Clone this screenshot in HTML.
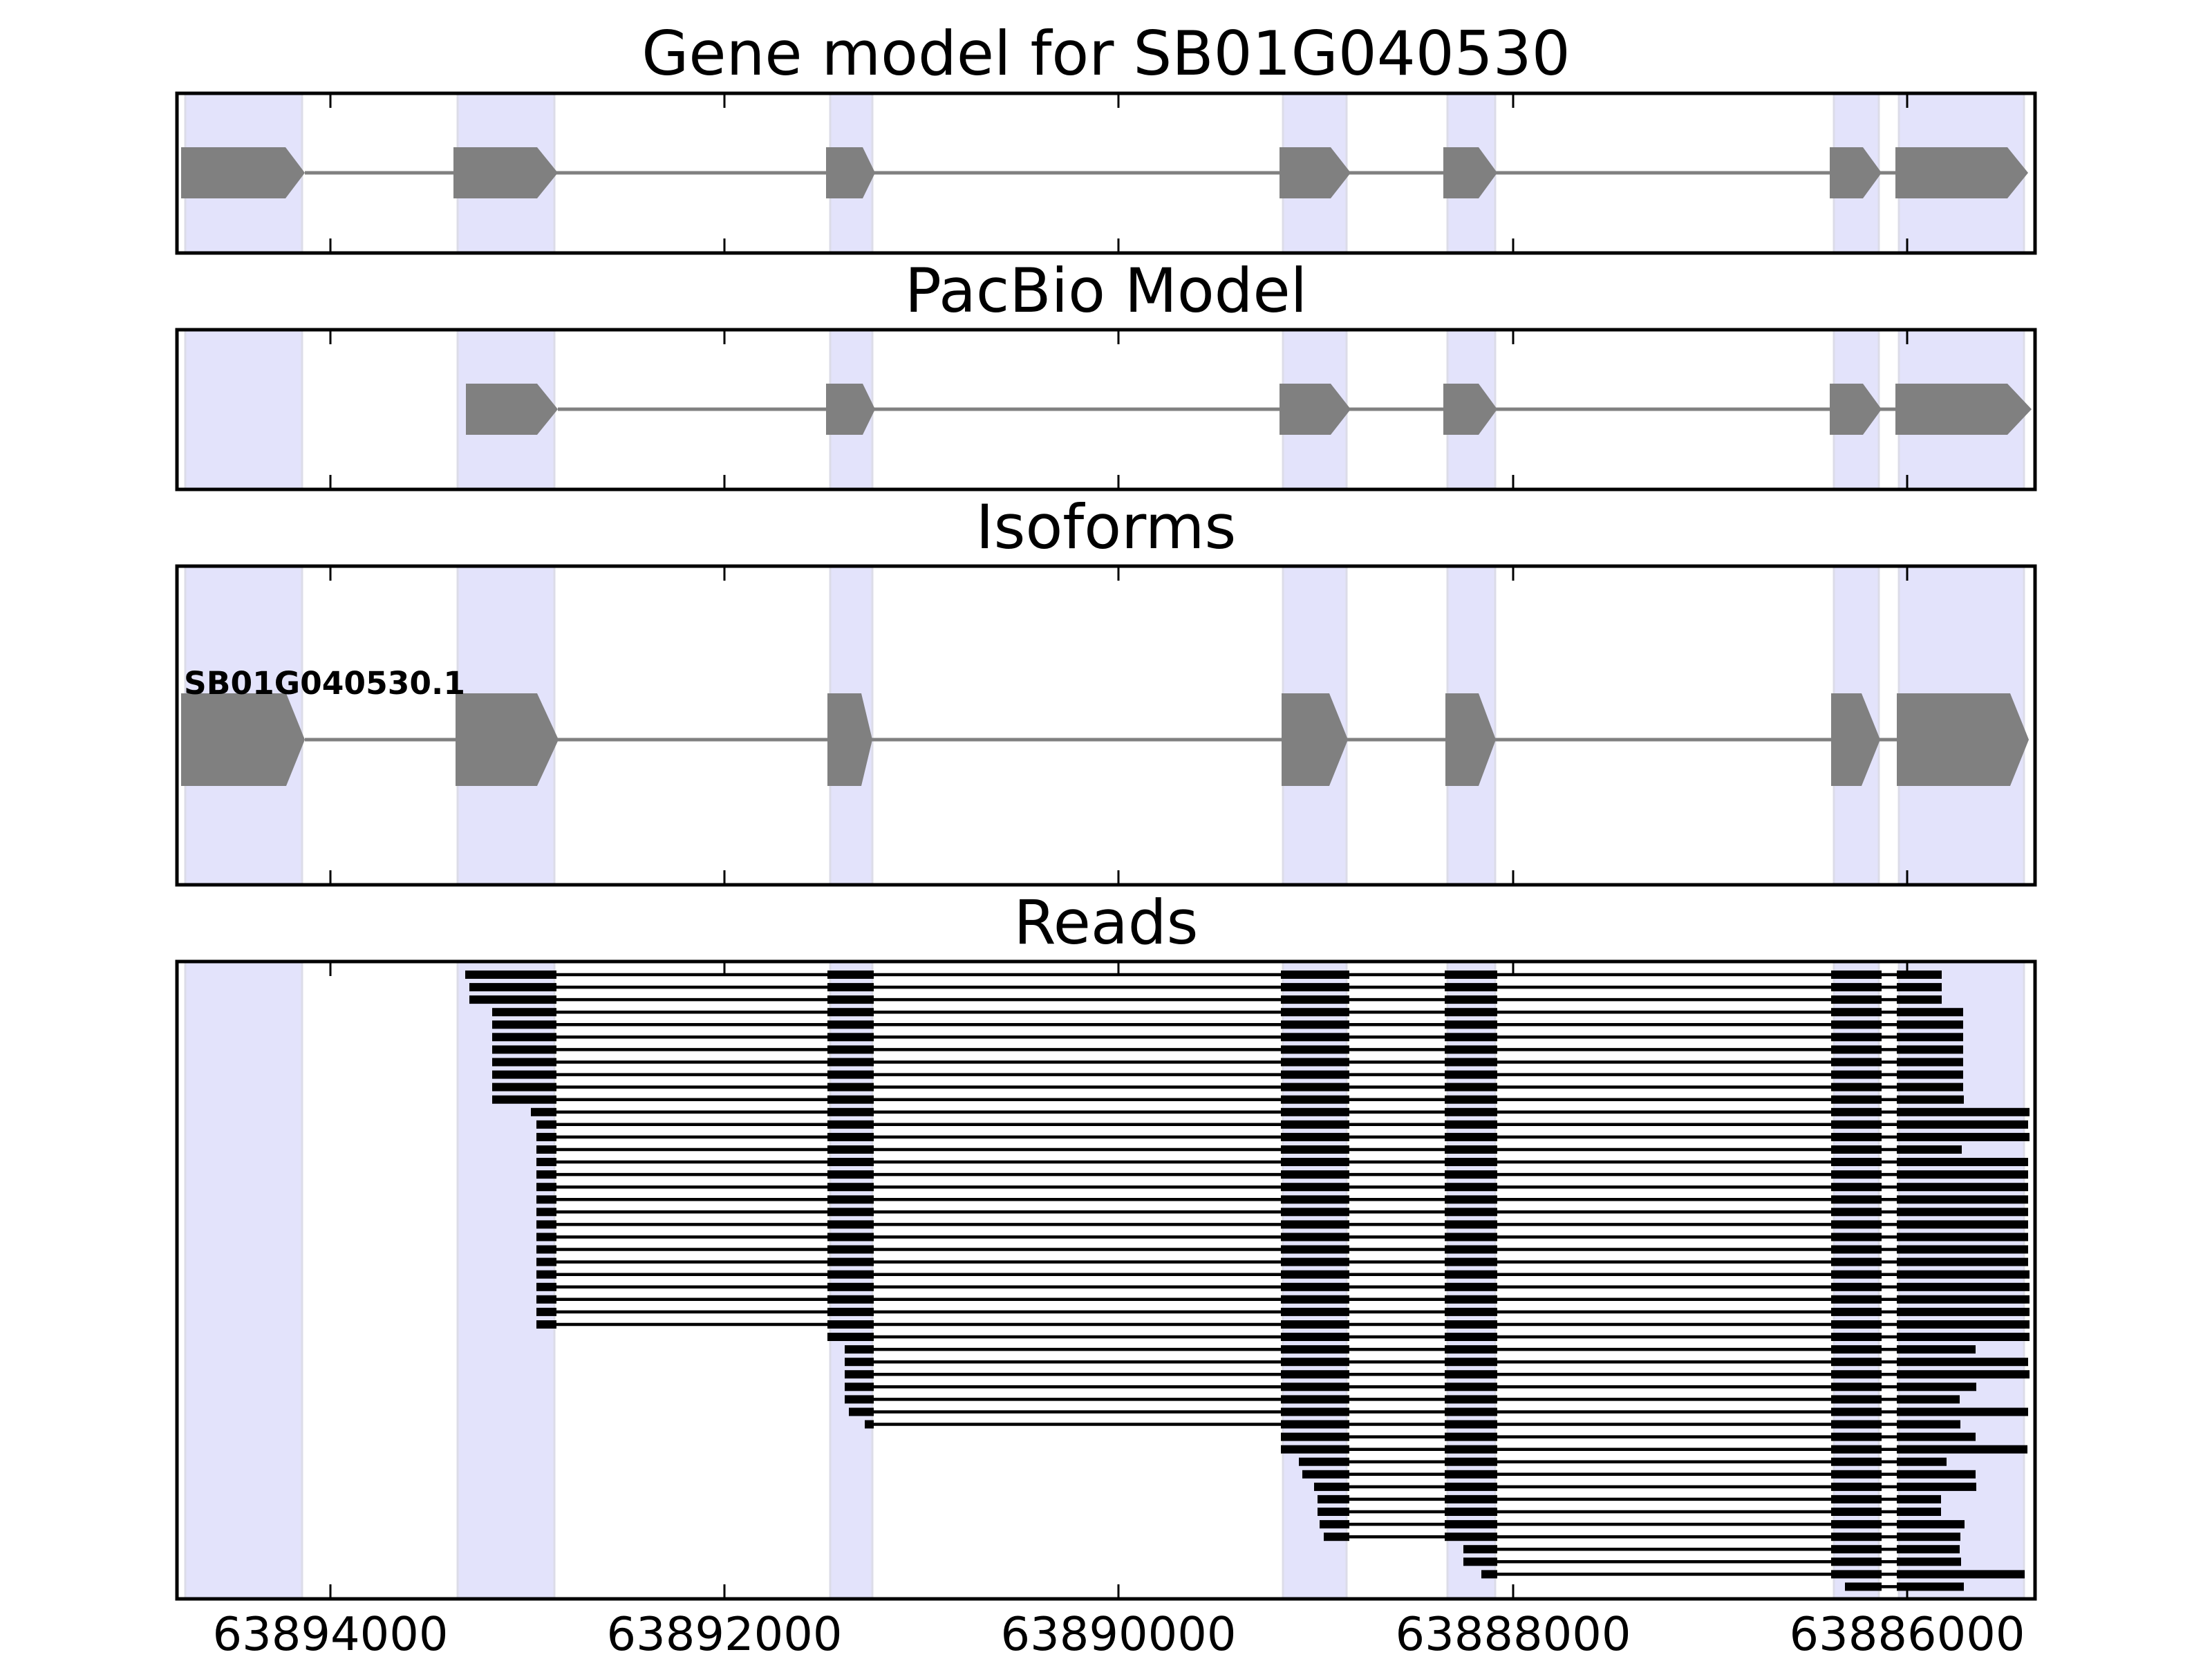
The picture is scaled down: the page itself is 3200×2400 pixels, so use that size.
<!DOCTYPE html>
<html><head><meta charset="utf-8"><style>
html,body{margin:0;padding:0;background:#fff;}
svg{display:block;}
text{font-family:"DejaVu Sans","Liberation Sans",sans-serif;}
</style></head><body>
<svg id="s" width="3200" height="2400" viewBox="0 0 3200 2400" xmlns="http://www.w3.org/2000/svg">
<text x="1600" y="108" font-size="88" text-anchor="middle">Gene model for SB01G040530</text>
<text x="1600" y="451" font-size="88" text-anchor="middle">PacBio Model</text>
<text x="1600" y="793" font-size="88" text-anchor="middle">Isoforms</text>
<text x="1600" y="1365" font-size="88" text-anchor="middle">Reads</text>
<g id="g"></g>
<text x="478" y="2387" font-size="67" text-anchor="middle">63894000</text>
<text x="1048" y="2387" font-size="67" text-anchor="middle">63892000</text>
<text x="1618" y="2387" font-size="67" text-anchor="middle">63890000</text>
<text x="2189" y="2387" font-size="67" text-anchor="middle">63888000</text>
<text x="2759" y="2387" font-size="67" text-anchor="middle">63886000</text>
</svg>
<script>
var g=document.getElementById('g'),h='';
var panels=[[135,366],[477,708],[819,1280],[1391,2313]];
var shade=[[268,437],[662,802],[1201,1262],[1856,1948],[2094,2163],[2653,2718],[2747,2928]];
var ticks=[478,1048,1618,2189,2759];
panels.forEach(function(p){
 shade.forEach(function(s){h+='<rect x="'+s[0]+'" y="'+p[0]+'" width="'+(s[1]-s[0])+'" height="'+(p[1]-p[0])+'" fill="#e3e3fb" stroke="#dcdce8" stroke-width="3"/>';});
});
function chev(a,b,t,cy,hh){return '<polygon points="'+a+','+(cy-hh)+' '+b+','+(cy-hh)+' '+t+','+cy+' '+b+','+(cy+hh)+' '+a+','+(cy+hh)+'" fill="#808080"/>';}
var gm=[[262,413,441],[656,777,807],[1195,1248,1266],[1851,1925,1954],[2088,2139,2166],[2647,2695,2722],[2742,2904,2934]];
h+='<line x1="441" y1="250" x2="2742" y2="250" stroke="#808080" stroke-width="5"/>';
gm.forEach(function(e){h+=chev(e[0],e[1],e[2],250,37);});
h+='<line x1="807" y1="592" x2="2742" y2="592" stroke="#808080" stroke-width="5"/>';
gm.forEach(function(e,i){if(i==0)return; var t=e[2]; if(i==6)t=2939; h+=chev(i==1?674:e[0],e[1],t,592,37);});
var iso=[[262,414,441],[659,777,808],[1197,1246,1262],[1854,1923,1950],[2091,2139,2164],[2649,2693,2720],[2744,2908,2935]];
h+='<line x1="441" y1="1070" x2="2744" y2="1070" stroke="#808080" stroke-width="5"/>';
iso.forEach(function(e){h+=chev(e[0],e[1],e[2],1070,67);});
h+='<text x="266" y="1004" font-size="45" font-weight="bold" textLength="407" lengthAdjust="spacingAndGlyphs">SB01G040530.1</text>';
var EX=[[0,805],[0,1264],[0,1952],[0,2166],[0,2722],[2744,0]];
var rows=[[0,673,2809],[0,679,2809],[0,679,2809]];
for(var i=3;i<=9;i++)rows.push([0,712,2840]);
rows.push([0,712,2841],[0,768,2936],[0,776,2934],[0,776,2936],[0,776,2838]);
for(i=15;i<=23;i++)rows.push([0,776,2934]);
for(i=24;i<=28;i++)rows.push([0,776,2936]);
rows.push([1,1197,2936],[1,1222,2858],[1,1222,2934],[1,1222,2936],[1,1222,2859],[1,1222,2835],[1,1228,2934],[1,1251,2836],
[2,1853,2858],[2,1853,2933],[2,1879,2816],[2,1884,2858],[2,1901,2859],[2,1906,2808],[2,1906,2808],[2,1909,2842],[2,1915,2836],
[3,2117,2835],[3,2117,2837],[3,2143,2929],[4,2669,2841]);
rows.forEach(function(r,i){
 var y=1410+18.07*i;
 h+='<line x1="'+r[1]+'" y1="'+y.toFixed(1)+'" x2="2744" y2="'+y.toFixed(1)+'" stroke="#000" stroke-width="4.5"/>';
 for(var k=r[0];k<6;k++){
  var a=(k==r[0])?r[1]:(k==5?2744:EX[k][0]);
  if(k<5&&k!=r[0]){a=[0,1197,1853,2090,2649][k];}
  var b=(k==5)?r[2]:EX[k][1];
  h+='<rect x="'+a+'" y="'+(y-6).toFixed(1)+'" width="'+(b-a)+'" height="12" fill="#000"/>';
 }
});
panels.forEach(function(p){
 h+='<rect x="256" y="'+p[0]+'" width="2688" height="'+(p[1]-p[0])+'" fill="none" stroke="#000" stroke-width="5"/>';
 ticks.forEach(function(t){h+='<line x1="'+t+'" y1="'+p[0]+'" x2="'+t+'" y2="'+(p[0]+21)+'" stroke="#000" stroke-width="3"/><line x1="'+t+'" y1="'+(p[1]-21)+'" x2="'+t+'" y2="'+p[1]+'" stroke="#000" stroke-width="3"/>';});
});
g.innerHTML=h;
</script>
</body></html>
